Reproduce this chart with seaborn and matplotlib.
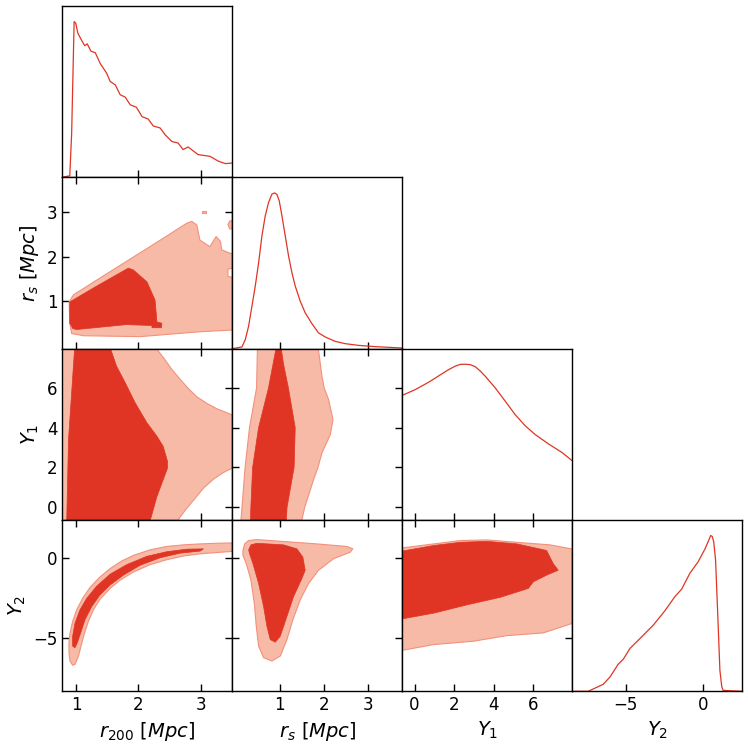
import matplotlib
matplotlib.use('Agg')
import matplotlib.pyplot as plt
import seaborn as sns

sns.set_style('white')
plt.rcParams['font.family'] = ['DejaVu Sans']
plt.rcParams['mathtext.fontset'] = 'dejavusans'
plt.rcParams['axes.linewidth'] = 1.0
plt.rcParams['axes.edgecolor'] = 'black'
plt.rcParams['text.color'] = 'black'
plt.rcParams['axes.labelcolor'] = 'black'
plt.rcParams['xtick.color'] = 'black'
plt.rcParams['ytick.color'] = 'black'

LIGHT = '#F7BAA6'
DARK = '#E03424'
EDGE = '#F2917C'

labels = [r'$r_{200}\ [Mpc]$', r'$r_s\ [Mpc]$', r'$Y_1$', r'$Y_2$']
xlims = [(0.78, 3.51), (-0.07, 3.78), (-0.62, 7.97), (-8.47, 2.53)]
ylims = [(0.78, 3.51), (-0.07, 3.78), (-0.64, 7.97), (-8.35, 2.39)]
ticks = [[1, 2, 3], [1, 2, 3], [0, 2, 4, 6], [-5, 0]]

# 1D marginals (normalised to peak = 1)
r200_grid = [0.78, 0.90, 0.93, 0.97, 0.995, 1.03, 1.09, 1.14, 1.18, 1.24, 1.31, 1.39, 1.49,
             1.55, 1.63, 1.71, 1.79, 1.87, 1.97, 2.06, 2.16, 2.24, 2.35, 2.43, 2.54, 2.64,
             2.72, 2.80, 2.96, 3.15, 3.29, 3.40, 3.51]
r200_pdf = [0.0, 0.01, 0.28, 1.0, 0.99, 0.925, 0.88, 0.845, 0.857, 0.81, 0.80, 0.73, 0.67,
            0.615, 0.594, 0.53, 0.515, 0.466, 0.45, 0.39, 0.374, 0.33, 0.317, 0.274, 0.23,
            0.22, 0.178, 0.195, 0.146, 0.135, 0.103, 0.088, 0.092]

rs_grid = [-0.063, 0.149, 0.224, 0.299, 0.375, 0.450, 0.526, 0.601, 0.676, 0.752, 0.827,
           0.888, 0.940, 0.993, 1.054, 1.129, 1.204, 1.280, 1.355, 1.468, 1.581, 1.732,
           1.883, 2.034, 2.260, 2.486, 2.788, 3.165, 3.78]
rs_pdf = [0.0, 0.011, 0.058, 0.144, 0.273, 0.402, 0.552, 0.724, 0.853, 0.939, 0.992,
          1.0, 0.99, 0.949, 0.853, 0.724, 0.595, 0.488, 0.402, 0.305, 0.230, 0.161,
          0.101, 0.075, 0.047, 0.032, 0.021, 0.013, 0.004]

y1_grid = [-0.62, 0.05, 0.72, 1.39, 1.73, 2.06, 2.31, 2.57, 2.82, 3.07, 3.32, 3.57, 4.07,
           4.58, 5.08, 5.58, 6.09, 6.76, 7.43, 7.97]
y1_pdf = [0.80, 0.838, 0.885, 0.939, 0.966, 0.988, 0.999, 1.0, 0.997, 0.984, 0.956, 0.923,
          0.849, 0.763, 0.677, 0.606, 0.549, 0.489, 0.435, 0.38]

y2_grid = [-8.47, -7.44, -6.47, -6.03, -5.50, -5.17, -4.74, -3.98, -3.23, -2.48, -1.83,
           -1.40, -0.86, -0.32, 0.11, 0.36, 0.48, 0.58, 0.68, 0.80, 0.93, 1.08, 1.20,
           1.29, 2.53]
y2_pdf = [0.0, 0.0, 0.045, 0.092, 0.174, 0.206, 0.275, 0.35, 0.425, 0.517, 0.608, 0.655,
          0.758, 0.833, 0.913, 0.97, 1.0, 0.995, 0.96, 0.844, 0.522, 0.135, 0.03,
          0.006, 0.0]

# 2D credible-region outlines (68% dark, 95% light)
rs_r200_95_x = [0.93, 0.90, 0.89, 0.96, 1.40, 1.90, 2.40, 2.78, 2.86, 2.94, 2.99, 3.15,
                3.25, 3.32, 3.34, 3.48, 3.60, 3.60, 3.44, 3.44, 3.60, 3.60, 2.99, 2.03,
                1.12, 0.93]
rs_r200_95_y = [0.27, 0.50, 0.98, 1.14, 1.53, 1.97, 2.41, 2.75, 2.79, 2.71, 2.37, 2.22,
                2.45, 2.34, 2.15, 2.07, 2.07, 1.75, 1.72, 1.55, 1.52, 0.355, 0.31, 0.20,
                0.22, 0.27]
rs_r200_island_x = [3.44, 3.47, 3.60, 3.60, 3.47]
rs_r200_island_y = [2.72, 2.80, 2.82, 2.62, 2.62]
rs_r200_dot_x = [3.03, 3.08, 3.08, 3.03]
rs_r200_dot_y = [2.97, 2.97, 3.03, 3.03]
rs_r200_68_x = [0.90, 0.90, 1.30, 1.84, 1.92, 2.14, 2.27, 2.30, 2.38, 2.37, 2.22, 2.22,
                1.81, 1.01, 0.95, 0.90]
rs_r200_68_y = [0.50, 0.98, 1.31, 1.74, 1.70, 1.43, 1.02, 0.53, 0.50, 0.40, 0.40, 0.45,
                0.47, 0.36, 0.38, 0.50]

y1_r200_95_x = [0.70, 0.70, 2.26, 2.404, 2.538, 2.672, 2.806, 2.940, 3.101, 3.262, 3.422,
                3.513, 3.60, 3.60, 3.513, 3.369, 3.208, 3.047, 2.913, 2.779, 2.645, 2.63]
y1_r200_95_y = [-0.8, 8.1, 8.1, 7.52, 6.93, 6.43, 5.96, 5.55, 5.22, 4.95, 4.75, 4.63, 4.58,
                1.92, 1.97, 1.75, 1.41, 0.96, 0.45, -0.05, -0.61, -0.8]
y1_r200_68_x = [0.85, 0.88, 0.98, 1.54, 1.65, 1.79, 1.95, 2.14, 2.30, 2.40, 2.47, 2.47,
                2.40, 2.30, 2.18]
y1_r200_68_y = [-0.8, 3.4, 8.1, 8.1, 7.1, 6.26, 5.25, 4.24, 3.57, 3.06, 2.30, 1.97, 1.38,
                0.54, -0.8]

y2_r200_95_x = [0.946, 0.904, 0.887, 0.887, 0.904, 0.946, 1.011, 1.107, 1.225, 1.386,
                1.547, 1.734, 1.922, 2.190, 2.458, 2.726, 2.994, 3.262, 3.51, 3.60, 3.60,
                3.51, 3.262, 2.994, 2.726, 2.458, 2.190, 1.922, 1.708, 1.547, 1.386,
                1.279, 1.198, 1.129, 1.08, 1.04, 0.984]
y2_r200_95_y = [-6.72, -6.45, -5.93, -5.31, -4.69, -3.97, -3.24, -2.52, -1.84, -1.18,
                -0.66, -0.18, 0.17, 0.52, 0.73, 0.83, 0.89, 0.93, 0.95, 0.96, 0.40, 0.42,
                0.35, 0.27, 0.13, -0.10, -0.41, -0.87, -1.38, -1.90, -2.58, -3.24, -3.97,
                -4.80, -5.52, -6.14, -6.66]
y2_r200_68_x = [0.946, 0.946, 0.984, 1.064, 1.172, 1.332, 1.547, 1.815, 2.136, 2.458,
                2.779, 3.047, 2.994, 2.672, 2.35, 2.029, 1.761, 1.547, 1.386, 1.252,
                1.145, 1.075, 1.021, 0.984]
y2_r200_68_y = [-5.52, -4.90, -4.07, -3.24, -2.52, -1.76, -1.01, -0.41, 0.11, 0.40, 0.56,
                0.58, 0.44, 0.31, 0.02, -0.45, -1.07, -1.69, -2.31, -3.04, -3.86, -4.69,
                -5.31, -5.62]

y1_rs_95_x = [0.50, 0.48, 0.32, 0.22, 0.15, 0.12, 1.49, 1.57, 1.77, 1.87, 1.96, 2.15,
              2.21, 2.11, 2.01, 1.96, 1.87]
y1_rs_95_y = [8.1, 6.0, 4.0, 2.0, 0.0, -0.8, -0.8, 0.0, 1.38, 2.0, 2.73, 3.65, 4.41, 5.42,
              6.0, 6.60, 8.1]
y1_rs_68_x = [0.93, 0.75, 0.525, 0.39, 0.35, 0.34, 1.15, 1.17, 1.33, 1.355, 1.20, 1.09,
              1.03]
y1_rs_68_y = [8.1, 6.0, 4.0, 2.0, 0.0, -0.8, -0.8, 0.0, 2.0, 4.0, 6.0, 7.2, 8.1]

y2_rs_95_x = [0.171, 0.209, 0.30, 0.488, 1.091, 1.845, 2.524, 2.66, 2.60, 2.222, 1.883,
              1.657, 1.468, 1.302, 1.167, 1.016, 0.827, 0.638, 0.526, 0.473, 0.428,
              0.352, 0.247, 0.171]
y2_rs_95_y = [0.48, 0.89, 1.10, 1.16, 1.04, 0.89, 0.73, 0.58, 0.37, -0.04, -0.76, -1.59,
              -2.62, -3.86, -5.11, -6.14, -6.45, -6.24, -5.52, -4.28, -2.83, -1.38,
              -0.35, 0.17]
y2_rs_68_x = [0.30, 0.352, 0.488, 1.091, 1.393, 1.528, 1.581, 1.506, 1.317, 1.167, 1.016,
              0.903, 0.79, 0.714, 0.639, 0.526, 0.398, 0.321]
y2_rs_68_y = [0.52, 0.83, 0.93, 0.83, 0.58, 0.06, -0.76, -1.28, -2.42, -3.66, -4.90,
              -5.27, -5.11, -4.28, -3.04, -1.59, -0.35, 0.27]

y2_y1_95_x = [-0.8, -0.57, 0.97, 2.31, 3.66, 5.17, 6.84, 7.93, 8.1, 8.1, 7.93, 6.50,
              4.66, 2.98, 0.97, -0.57, -0.8]
y2_y1_95_y = [0.67, 0.65, 0.89, 1.10, 1.14, 0.99, 0.83, 0.58, 0.55, -4.15, -4.11, -4.69,
              -4.86, -5.21, -5.42, -5.77, -5.80]
y2_y1_68_x = [-0.8, 0.97, 2.31, 3.66, 5.17, 6.67, 7.01, 7.26, 6.67, 6.0, 5.75, 4.33, 2.65,
              0.97, -0.8]
y2_y1_68_y = [0.40, 0.79, 0.99, 1.05, 0.89, 0.48, -0.35, -0.76, -1.07, -1.49, -1.90,
              -2.46, -2.93, -3.45, -3.85]

marginals = [(r200_grid, r200_pdf), (rs_grid, rs_pdf), (y1_grid, y1_pdf), (y2_grid, y2_pdf)]

regions = {
    (1, 0): ([(rs_r200_95_x, rs_r200_95_y), (rs_r200_island_x, rs_r200_island_y),
              (rs_r200_dot_x, rs_r200_dot_y)], [(rs_r200_68_x, rs_r200_68_y)]),
    (2, 0): ([(y1_r200_95_x, y1_r200_95_y)], [(y1_r200_68_x, y1_r200_68_y)]),
    (3, 0): ([(y2_r200_95_x, y2_r200_95_y)], [(y2_r200_68_x, y2_r200_68_y)]),
    (2, 1): ([(y1_rs_95_x, y1_rs_95_y)], [(y1_rs_68_x, y1_rs_68_y)]),
    (3, 1): ([(y2_rs_95_x, y2_rs_95_y)], [(y2_rs_68_x, y2_rs_68_y)]),
    (3, 2): ([(y2_y1_95_x, y2_y1_95_y)], [(y2_y1_68_x, y2_y1_68_y)]),
}

fig, axes = plt.subplots(4, 4, figsize=(7.48, 7.48), dpi=100,
                         gridspec_kw=dict(hspace=0, wspace=0))
fig.subplots_adjust(left=62.3 / 748, right=742.3 / 748, top=1 - 6 / 748,
                    bottom=1 - 691.3 / 748)

for i in range(4):
    for j in range(4):
        ax = axes[i, j]
        if j > i:
            ax.set_visible(False)
            continue
        ax.set_xlim(*xlims[j])
        ax.set_xticks(ticks[j])
        if i == j:
            grid, pdf = marginals[i]
            sns.lineplot(x=grid, y=pdf, ax=ax, color=DARK, lw=0.9)
            ax.set_ylim(0, 1.1)
            ax.set_yticks([])
            ax.tick_params(axis='x', direction='in', length=5, width=1,
                           top=False, bottom=True, labelsize=12)
        else:
            light, dark = regions[(i, j)]
            for px, py in light:
                ax.fill(px, py, facecolor=LIGHT, edgecolor=EDGE, lw=0.8, zorder=1)
            for px, py in dark:
                ax.fill(px, py, facecolor=DARK, edgecolor=DARK, lw=0.5, zorder=2)
            ax.set_ylim(*ylims[i])
            ax.set_yticks(ticks[i])
            ax.tick_params(direction='in', length=5, width=1, top=True, right=True,
                           bottom=True, left=True, labelsize=12)
        if i == 3:
            ax.set_xlabel(labels[j], fontsize=14)
        else:
            ax.tick_params(labelbottom=False)
        if j == 0 and i > 0:
            ax.set_ylabel(labels[i], fontsize=14)
        else:
            ax.tick_params(labelleft=False)
        ax.set_facecolor('white')

fig.savefig('out.png', dpi=100)
